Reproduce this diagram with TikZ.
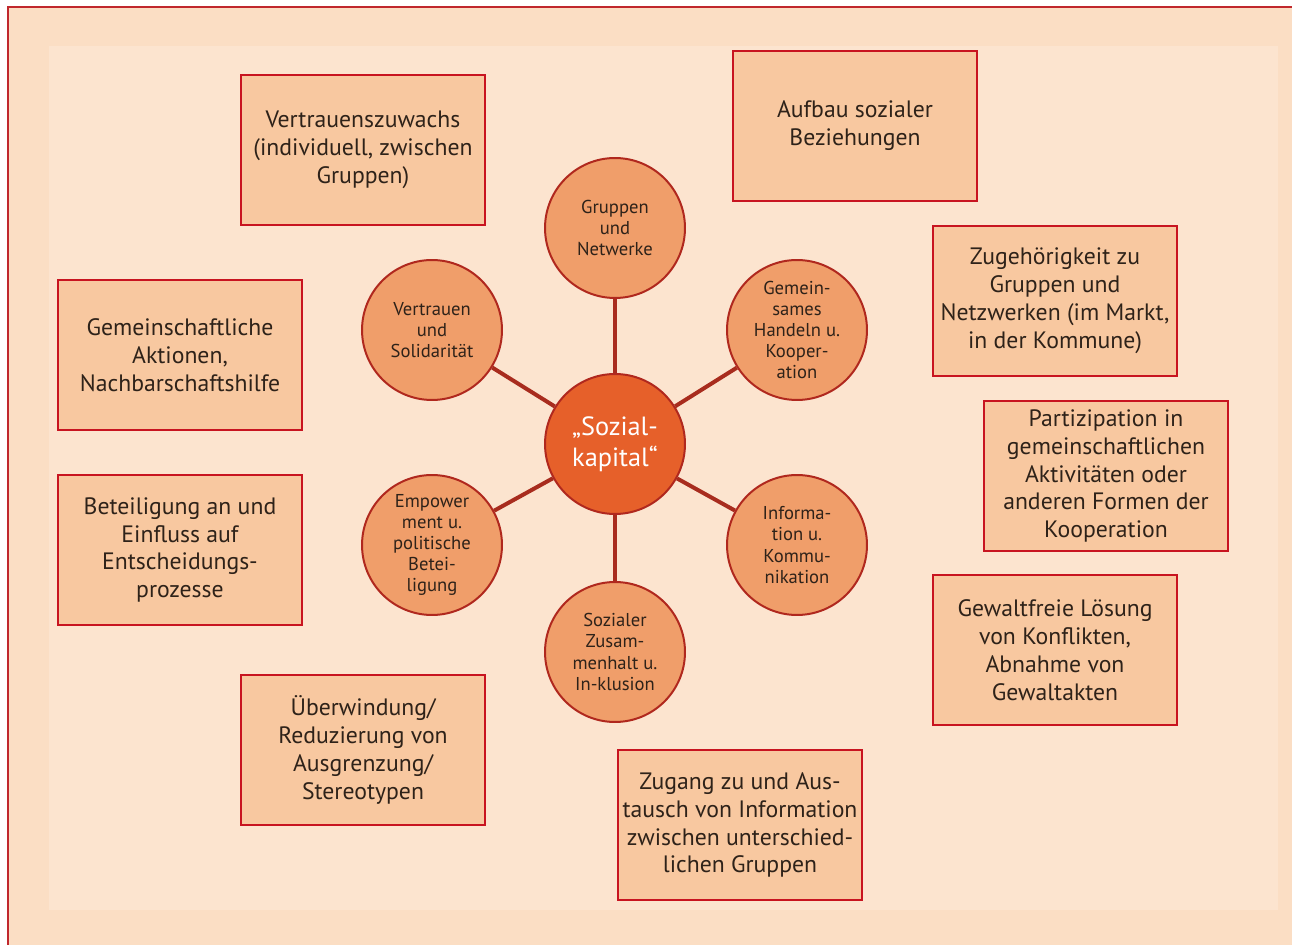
\documentclass[tikz,border=0pt]{standalone}
\usepackage{fontspec}
\setmainfont{PT Sans}
\usetikzlibrary{positioning}

\definecolor{framered}{RGB}{192,40,45}
\definecolor{outerbg}{RGB}{251,222,196}
\definecolor{innerbg}{RGB}{252,228,207}
\definecolor{boxfill}{RGB}{248,200,160}
\definecolor{boxline}{RGB}{200,20,32}
\definecolor{circfill}{RGB}{240,158,106}
\definecolor{circline}{RGB}{176,40,30}
\definecolor{hubfill}{RGB}{230,96,42}
\definecolor{spoke}{RGB}{168,44,30}
\definecolor{txt}{RGB}{46,34,25}

\tikzset{
  effect/.style={draw=boxline, fill=boxfill, line width=0.04cm, minimum width=4.88cm,
    minimum height=3cm, inner xsep=0.5pt, align=center, text=txt,
    font=\fontsize{13.5}{15.9}\selectfont},
  dim/.style={circle, draw=circline, fill=circfill, line width=0.04cm, minimum size=2.8cm,
    inner sep=0pt, align=center, text=txt, font=\fontsize{10.6}{12}\selectfont},
  hub/.style={circle, draw=circline, fill=hubfill, line width=0.04cm, minimum size=2.8cm,
    inner sep=0pt, align=center, text=white, font=\fontsize{15}{17.5}\selectfont},
  spokeline/.style={draw=spoke, line width=0.08cm}
}

\begin{document}
\begin{tikzpicture}[x=0.02cm, y=-0.02cm]
\useasboundingbox (0,0) rectangle (1292,945);
\fill[white] (0,0) rectangle (1292,945);

% frame
\fill[outerbg] (8,7) rectangle (1292,945);
\draw[framered, line width=0.04cm] (8,945) -- (8,7) -- (1292,7);
\fill[innerbg] (49,46) rectangle (1278,910);

% hub and dimensions
\node[hub](sozial) at (615,444) {„Sozial-\\kapital“};

\node[dim](gruppen) at (615,228) {Gruppen\\und\\Netwerke};
\node[dim](handeln) at (797,330) {Gemein-\\sames\\Handeln u.\\Kooper-\\ation};
\node[dim](info) at (797,545) {Informa-\\tion u.\\Kommu-\\nikation};
\node[dim](zusammen) at (615,652) {Sozialer\\Zusam-\\menhalt u.\\In-klusion};
\node[dim](empower) at (432,545) {Empower\\ment u.\\politische\\Betei-\\ligung};
\node[dim](vertrauen) at (432,330) {Vertrauen\\und\\Solidarität};

% spokes
\foreach \n in {gruppen,handeln,info,zusammen,empower,vertrauen}
  \draw[spokeline] (sozial) -- (\n);

% effects
\node[effect](zuwachs) at (363,150) {Vertrauenszuwachs\\(individuell, zwischen\\Gruppen)};
\node[effect](aufbau) at (855,126) {Aufbau sozialer\\Beziehungen};
\node[effect](zugehoerig) at (1055,301) {Zugehörigkeit zu\\Gruppen und\\Netzwerken (im Markt,\\in der Kommune)};
\node[effect](partizip) at (1106,476) {Partizipation in\\gemeinschaftlichen\\Aktivitäten oder\\anderen Formen der\\Kooperation};
\node[effect](gewalt) at (1055,650) {Gewaltfreie Lösung\\von Konflikten,\\Abnahme von\\Gewaltakten};
\node[effect](zugang) at (740,825) {Zugang zu und Aus-\\tausch von Information\\zwischen unterschied-\\lichen Gruppen};
\node[effect](ueberw) at (363,750) {Überwindung/\\Reduzierung von\\Ausgrenzung/\\Stereotypen};
\node[effect](beteil) at (180,550) {Beteiligung an und\\Einfluss auf\\Entscheidungs-\\prozesse};
\node[effect](aktion) at (180,355) {Gemeinschaftliche\\Aktionen,\\Nachbarschaftshilfe};

\end{tikzpicture}
\end{document}
